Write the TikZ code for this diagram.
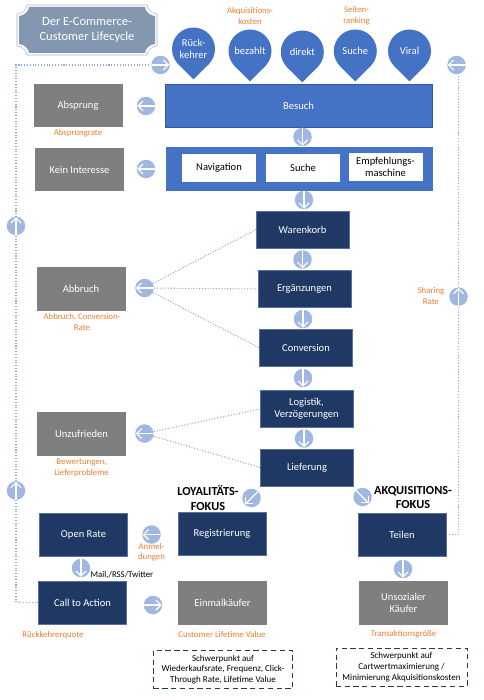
\documentclass[tikz,border=0pt]{standalone}
\usepackage{fontspec}
\setmainfont{Carlito}
\usetikzlibrary{arrows.meta,backgrounds}
\definecolor{blueB}{HTML}{4472C4}
\definecolor{navyB}{HTML}{1F3864}
\definecolor{grayB}{HTML}{7F7F7F}
\definecolor{lightB}{HTML}{8FAADC}
\definecolor{orangeT}{HTML}{ED7D31}
\definecolor{titleB}{HTML}{8497B0}
\begin{document}
\begin{tikzpicture}[
    x=0.2mm, y=-0.2mm,
    size/.style 2 args={minimum width=#1*0.2mm, minimum height=#2*0.2mm, inner sep=0pt, align=center},
    txt/.style={font=\fontsize{6}{7}\selectfont},
    bluebox/.style={size={#1}{43}, fill=blueB, draw=blueB!80!black, line width=0.2pt, text=white, txt},
    navybox/.style={size={93}{37}, fill=navyB, draw=lightB!50!navyB, line width=0.15pt, text=white, txt},
    focusbox/.style={size={88}{43}, fill=navyB, draw=lightB!50!navyB, line width=0.15pt, text=white, txt},
    graybox/.style={size={89}{43.5}, fill=grayB, text=white, txt},
    whitebox/.style={size={74}{28}, fill=white, text=black, txt},
    rate/.style={text=orangeT, align=center, inner sep=0pt, font=\fontsize{5}{6}\selectfont},
    focus/.style={align=center, inner sep=0pt, font=\fontsize{7}{8.3}\selectfont\bfseries},
    note/.style={size={#1}{38}, draw=navyB, densely dashed, line width=0.25pt, font=\fontsize{5.15}{6.1}\selectfont},
    pin/.style={circle, fill=blueB, minimum size=43*0.2mm, inner sep=0pt, text=white, align=center, txt},
    flow/.style={circle, fill=lightB!85!white, minimum size=18.5*0.2mm, inner sep=0pt,
        path picture={\draw[white, line width=0.65pt, -{Straight Barb[length=1mm,width=2mm]}]
            (path picture bounding box.center) ++(#1+180:1.85mm) -- ++(#1:3.6mm);}},
    link/.style={lightB, densely dotted, line width=0.6pt}
]
\useasboundingbox (0,0) rectangle (483,700);

% Titel
\draw[titleB!70, fill=white, line width=0.3pt] (27,5) -- (147,5) .. controls (147,9) and (152,14) .. (157,14)
    -- (157,46) .. controls (152,46) and (147,51) .. (147,55) -- (27,55) .. controls (27,51) and (22,46) .. (17,46)
    -- (17,14) .. controls (22,14) and (27,9) .. (27,5) -- cycle;
\fill[titleB] (29,7) -- (145,7) .. controls (145,11) and (150,16) .. (155,16)
    -- (155,44) .. controls (150,44) and (145,49) .. (145,53) -- (29,53) .. controls (29,49) and (24,44) .. (19,44)
    -- (19,16) .. controls (24,16) and (29,11) .. (29,7) -- cycle;
\node[text=white, align=center, inner sep=0pt, font=\fontsize{7.1}{8.6}\selectfont] (title) at (87,30) {Der E-Commerce-\\Customer Lifecycle};

% Quellen
\foreach \name/\x/\y/\label in {rueck/193.5/49/{R\"uck-\\kehrer}, bez/250/51/bezahlt, dir/302.3/52/direkt, such/355.3/51/Suche, vir/409.5/51/Viral}{
    \fill[blueB] (\x,\y) ++(-15.2,15.2) -- (\x,\y+30.4) -- (\x+15.2,\y+15.2) -- cycle;
    \node[pin] (\name) at (\x,\y) {\label};
}
\node[rate] (kosten) at (250,16) {Akquisitions-\\kosten};
\node[rate] (ranking) at (356.5,15.5) {Seiten-\\ranking};

% Besuch
\node[bluebox=267] (besuch) at (298.5,105.5) {Besuch};
\node[graybox] (absprung) at (78,105.5) {Absprung};
\node[rate] (abrate) at (78,133.5) {Absprungrate};
\node[flow=180] (f1) at (146,106) {};
\node[flow=-90] (f2) at (302.5,137) {};

% Navigation
\node[size={267}{44}, fill=blueB] (nav) at (299.5,169) {};
\node[whitebox] (navi) at (219,168) {Navigation};
\node[whitebox] (suche) at (303,168) {Suche};
\node[whitebox] (empf) at (385.5,167) {Empfehlungs-\\maschine};
\node[graybox] (kein) at (79.5,169.5) {Kein Interesse};
\node[flow=180] (f3) at (146,169) {};
\node[flow=-90] (f4) at (304,200) {};

% Funnel
\node[navybox] (waren) at (302.5,229.5) {Warenkorb};
\node[navybox] (erg) at (304.5,289) {Erg\"anzungen};
\node[navybox] (conv) at (306,348) {Conversion};
\node[navybox] (log) at (306.5,409) {Logistik,\\Verz\"ogerungen};
\node[navybox] (lief) at (307,467.5) {Lieferung};
\node[flow=-90] (f5) at (302.5,259.5) {};
\node[flow=-90] (f6) at (303,319) {};
\node[flow=-90] (f7) at (303,378) {};
\node[flow=-90] (f8) at (304,438.5) {};

% Abbruch
\node[graybox] (abbruch) at (81,289) {Abbruch};
\node[rate] (abbrate) at (82,322) {Abbruch, Conversion-\\Rate};
\node[flow=180] (f9) at (144.5,288) {};
\node[graybox] (unzu) at (81.5,434) {Unzufrieden};
\node[rate] (bew) at (81.5,468) {Bewertungen,\\Lieferprobleme};
\node[flow=180] (f10) at (144.5,433.5) {};

% Loyalitaet
\node[focus] (loyal) at (208,498) {LOYALIT\"ATS-\\FOKUS};
\node[flow=225] (f11) at (251.5,498) {};
\node[focusbox] (reg) at (222,533.5) {Registrierung};
\node[focusbox] (open) at (83.5,534.5) {Open Rate};
\node[flow=180] (f12) at (151.5,534.5) {};
\node[rate] (anm) at (151.5,552) {Anmel-\\dungen};
\node[flow=-90] (f13) at (81,568) {};
\node[inner sep=0pt, font=\fontsize{5}{6}\selectfont] (mail) at (122,575.5) {Mail,/RSS/Twitter};
\node[focusbox] (call) at (82.5,602.5) {Call to Action};
\node[flow=0] (f14) at (153,605) {};
\node[graybox] (einmal) at (222.5,603) {Einmalk\"aufer};
\node[rate] (quote) at (53,635) {R\"uckkehrerquote};
\node[rate] (clv) at (222,634) {Customer Lifetime Value};
\node[note=139] (n1) at (223,669.5) {Schwerpunkt auf\\Wiederkaufsrate, Frequenz, Click-\\Through Rate, Lifetime Value};

% Akquisition
\node[focus] (akq) at (413,497.5) {AKQUISITIONS-\\FOKUS};
\node[flow=-45] (f15) at (362.5,497) {};
\node[focusbox] (teilen) at (402,534.5) {Teilen};
\node[flow=-90] (f16) at (403,569) {};
\node[graybox] (unsoz) at (403.5,603) {Unsozialer\\K\"aufer};
\node[rate] (trans) at (403.5,634) {Transaktionsgr\"o\ss e};
\node[note=131.5] (n2) at (401.5,667) {Schwerpunkt auf\\Cartwertmaximierung /\\Minimierung Akquisitionskosten};

% Rueckkopplung
\node[flow=180] (f17) at (456.5,65) {};
\node[flow=90] (f18) at (458.5,296.7) {};
\node[rate] (share) at (431,296) {Sharing\\Rate};
\node[flow=0] (f19) at (160.5,65) {};
\node[flow=90] (f20) at (16,226) {};
\node[flow=90] (f21) at (16,490.6) {};

% Verbindungen
\begin{scope}[on background layer]
\foreach \j in {waren,erg,conv}
    \draw[link] (f9) -- (\j.west);
\foreach \j in {log,lief}
    \draw[link] (f10) -- (\j.west);
\draw[link] (call.west) -| (f21.center) -- (f20.center) |- (f19);
\draw[link] (teilen.east) -| (f18.center) -- (f17.south -| f18);
\end{scope}

\end{tikzpicture}
\end{document}
